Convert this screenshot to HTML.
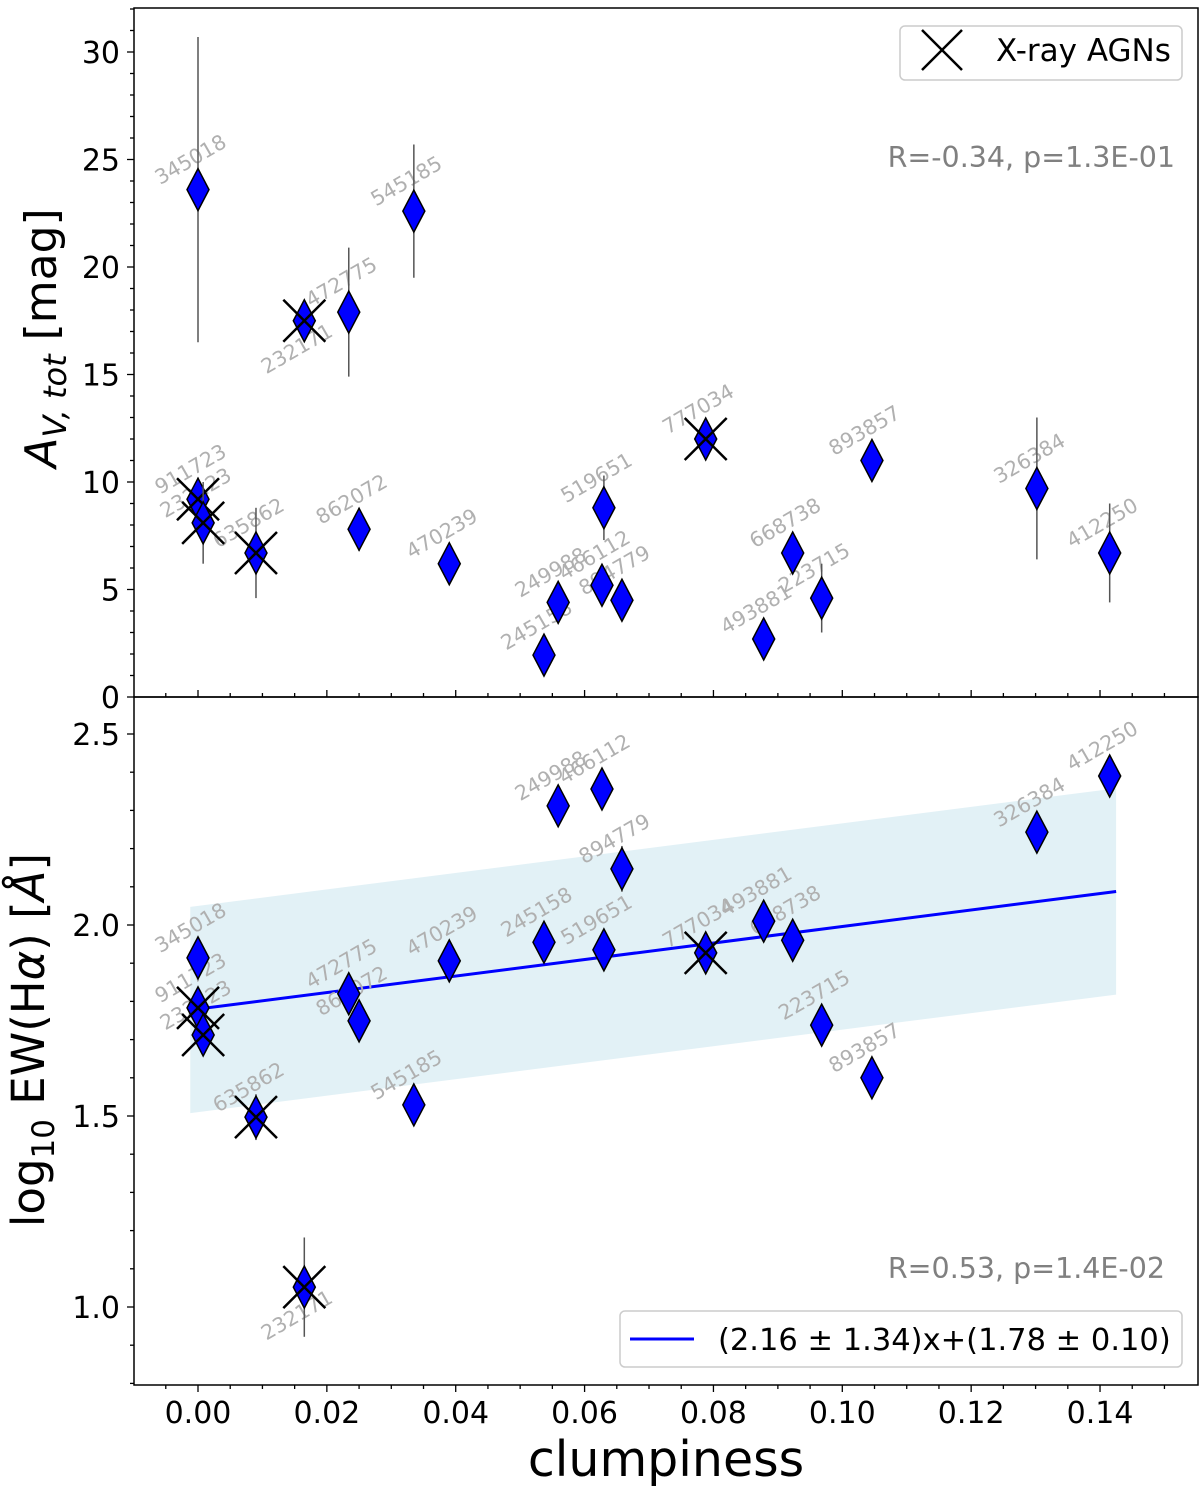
<!DOCTYPE html>
<html><head><meta charset="utf-8"><style>
body{margin:0;background:#fff;}
svg{display:block;font-family:"DejaVu Sans","Liberation Sans",sans-serif;}
</style></head><body>
<svg id="chart" width="1200" height="1499" xmlns="http://www.w3.org/2000/svg"></svg>
<script>
const ids    = ["345018","911723","232123","635862","232171","472775","862072","545185","470239","245158","249988","466112","519651","894779","777034","493881","668738","223715","893857","326384","412250"];
const clump  = [0.000,0.000,0.0008,0.009,0.0165,0.0234,0.025,0.0335,0.039,0.0537,0.0559,0.0627,0.063,0.0658,0.0788,0.0878,0.0923,0.0968,0.1046,0.1302,0.1415];
const av     = [23.6,9.2,8.1,6.7,17.5,17.9,7.8,22.6,6.2,1.95,4.4,5.2,8.8,4.5,12.0,2.7,6.7,4.6,11.0,9.7,6.7];
const avErr  = [7.1,1.0,1.9,2.1,0.8,3.0,1.0,3.1,0.6,0.5,0.8,0.8,1.5,0.9,1.0,0.8,0.8,1.6,0.8,3.3,2.3];
const ew     = [1.914,1.783,1.712,1.497,1.052,1.82,1.749,1.529,1.906,1.955,2.312,2.356,1.935,2.147,1.927,2.01,1.96,1.738,1.60,2.243,2.39];
const ewErr  = [0.03,0.03,0.03,0.06,0.13,0.04,0.04,0.05,0.03,0.03,0.04,0.04,0.04,0.06,0.04,0.04,0.05,0.04,0.03,0.05,0.03];
const agn    = [0,1,1,1,1,0,0,0,0,0,0,0,0,0,1,0,0,0,0,0,0];
const xTicks = ["0.00","0.02","0.04","0.06","0.08","0.10","0.12","0.14"];
const avTicks = [0,5,10,15,20,25,30];
const ewTicks = ["1.0","1.5","2.0","2.5"];
const fitSlope = [2.16], fitInt = [1.78], fitBand = [0.27], fitRange = [-0.0012, 0.1425];

const NS="http://www.w3.org/2000/svg";
const svg=document.getElementById('chart');
function mk(tag,attrs,parent){const e=document.createElementNS(NS,tag);for(const k in attrs)e.setAttribute(k,attrs[k]);(parent||svg).appendChild(e);return e;}
const L=134,R=1198;
const X=v=>198+(v)*6443;
const Ytop=v=>697-v*21.5;
const Ybot=v=>734-(v-2.5)*382;

{const x0=fitRange[0],x1=fitRange[1];
const y=x=>fitInt[0]+fitSlope[0]*x;
const b=mk('polygon',{points:`${X(x0)},${Ybot(y(x0)+fitBand[0])} ${X(x1)},${Ybot(y(x1)+fitBand[0])} ${X(x1)},${Ybot(y(x1)-fitBand[0])} ${X(x0)},${Ybot(y(x0)-fitBand[0])}`,fill:'#add8e6','fill-opacity':0.35});


const l=mk('line',{x1:X(x0),y1:Ybot(y(x0)),x2:X(x1),y2:Ybot(y(x1)),stroke:'#0000ff','stroke-width':3});


}

function panel(Y,vals,errs,name){
  const g=mk('g',{});
  
  
  ids.forEach((id,i)=>{
    const cx=X(clump[i]),cy=Y(vals[i]);
    const lab=mk('text',{x:cx-4,y:cy-24,'font-size':20.5,fill:'#b0b0b0','text-anchor':'middle',transform:`rotate(-30 ${cx-4} ${cy-24})`},g);
    if(id==="232171"){lab.setAttribute('y',cy+34);lab.setAttribute('transform',`rotate(-30 ${cx-4} ${cy+34})`);}
    lab.textContent=id;
    
    
  });
  ids.forEach((id,i)=>{
    const cx=X(clump[i]),cy=Y(vals[i]);
    const eb=mk('line',{x1:cx,x2:cx,y1:Y(vals[i]-errs[i]),y2:Y(vals[i]+errs[i]),stroke:'#555','stroke-width':1.5},g);
    
    
    const d=mk('polygon',{points:`${cx},${cy-21} ${cx+11},${cy} ${cx},${cy+21} ${cx-11},${cy}`,fill:'#0000ff',stroke:'#000','stroke-width':1.5},g);
    
    
    if(agn[i]){
      const x=mk('path',{d:`M${cx-21},${cy-21}L${cx+21},${cy+21}M${cx-21},${cy+21}L${cx+21},${cy-21}`,stroke:'#000','stroke-width':2.5,fill:'none'},g);
      
      
    }
  });
}
panel(Ytop,av,avErr,'av');
panel(Ybot,ew,ewErr,'ew');

const f1=mk('rect',{x:L,y:8,width:R-L,height:689,fill:'none',stroke:'#000','stroke-width':1.5});


const f2=mk('rect',{x:L,y:697,width:R-L,height:688,fill:'none',stroke:'#000','stroke-width':1.5});



for(let v=0;v<=32;v+=1){const y=Ytop(v);if(y<8)break;const maj=v%5===0;mk('line',{x1:L,x2:L-(maj?7:4),y1:y,y2:y,stroke:'#000','stroke-width':1.3});}
avTicks.forEach(v=>{const t=mk('text',{x:L-14,y:Ytop(v)+11,'font-size':30,'text-anchor':'end'});t.textContent=v;

});
for(let v=0.8;v<=2.6;v+=0.1){const y=Ybot(v);if(y<697||y>1385)continue;const maj=Math.abs(v*2-Math.round(v*2))<0.01;mk('line',{x1:L,x2:L-(maj?7:4),y1:y,y2:y,stroke:'#000','stroke-width':1.3});}
ewTicks.forEach(v=>{const t=mk('text',{x:L-14,y:Ybot(+v)+11,'font-size':30,'text-anchor':'end'});t.textContent=v;

});
for(let v=-0.005;v<=0.155;v+=0.005){const x=X(v);if(x<L||x>R)continue;const maj=Math.abs(v*50-Math.round(v*50))<0.01;
 mk('line',{x1:x,x2:x,y1:1385,y2:1385+(maj?7:4),stroke:'#000','stroke-width':1.3});
 mk('line',{x1:x,x2:x,y1:697,y2:697-(maj?7:4),stroke:'#000','stroke-width':1.3});}
xTicks.forEach(v=>{const t=mk('text',{x:X(+v),y:1423,'font-size':30,'text-anchor':'middle'});t.textContent=v;

});

const xt=mk('text',{x:666,y:1476,'font-size':49,'text-anchor':'middle'});xt.textContent='clumpiness';


const yt1=mk('text',{x:56,y:338,'font-size':44,'text-anchor':'middle',transform:'rotate(-90 56 338)'});
yt1.innerHTML='<tspan font-style="italic">A</tspan><tspan font-style="italic" font-size="32" dy="10">V, tot</tspan><tspan dy="-10"> [mag]</tspan>';


const yt2=mk('text',{x:44,y:1040,'font-size':45,'text-anchor':'middle',transform:'rotate(-90 44 1040)'});
yt2.innerHTML='log<tspan font-size="31" dy="10">10</tspan><tspan dy="-10"> EW(H</tspan><tspan font-style="italic">α</tspan>) [<tspan font-style="italic">Å</tspan>]';



const s1=mk('text',{x:1175,y:167,'font-size':28.5,'text-anchor':'end',fill:'#808080'});s1.textContent='R=-0.34, p=1.3E-01';


const s2=mk('text',{x:1165,y:1278,'font-size':28.5,'text-anchor':'end',fill:'#808080'});s2.textContent='R=0.53, p=1.4E-02';



const lg1=mk('g',{});


mk('rect',{x:900,y:26,width:282,height:54,rx:5,fill:'#fff',stroke:'#ccc','stroke-width':1.5},lg1);
mk('path',{d:'M922,30L962,70M922,70L962,30',stroke:'#000','stroke-width':2.5},lg1);
const lt1=mk('text',{x:996,y:61,'font-size':31},lg1);lt1.textContent='X-ray AGNs';
const lg2=mk('g',{});


mk('rect',{x:620,y:1311,width:562,height:56,rx:5,fill:'#fff',stroke:'#ccc','stroke-width':1.5},lg2);
mk('line',{x1:630,x2:694,y1:1339,y2:1339,stroke:'#0000ff','stroke-width':3},lg2);
const lt2=mk('text',{x:718,y:1350,'font-size':30.5},lg2);lt2.textContent='(2.16 ± 1.34)x+(1.78 ± 0.10)';
</script>
</body></html>
